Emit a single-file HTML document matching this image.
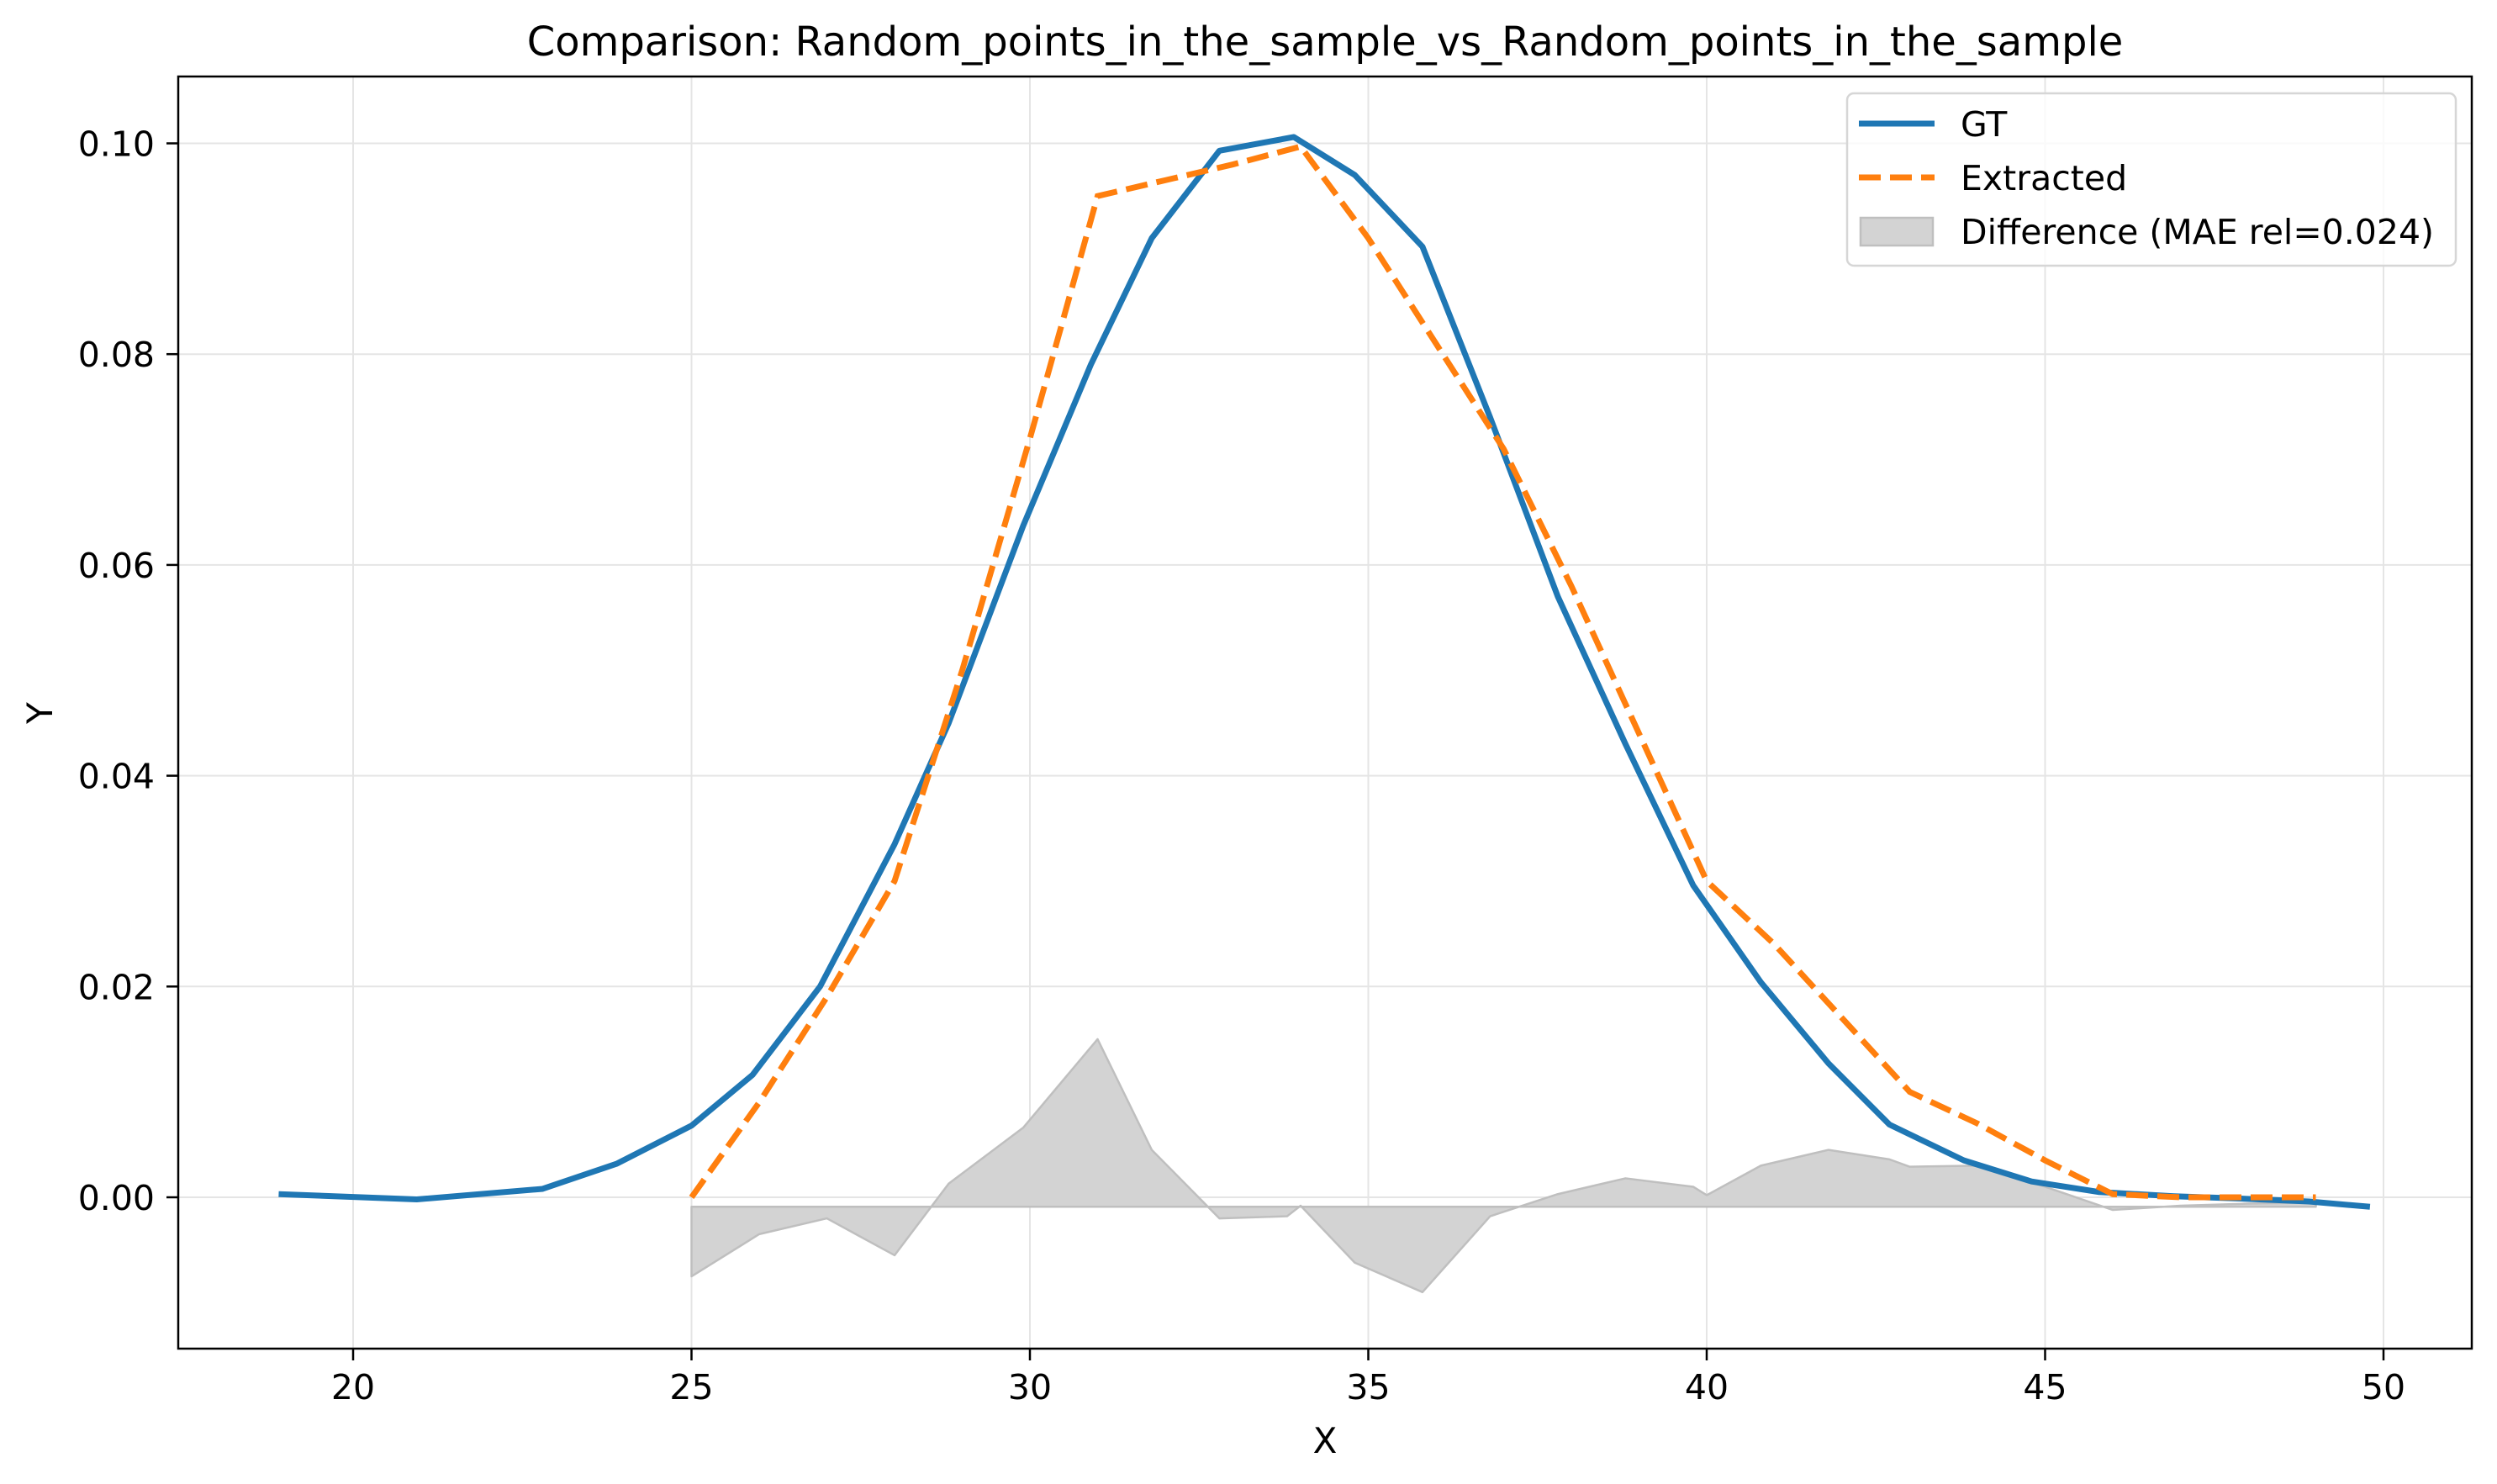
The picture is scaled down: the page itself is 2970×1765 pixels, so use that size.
<!DOCTYPE html>
<html><head><meta charset="utf-8"><style>
html,body{margin:0;padding:0;background:#fff;}
svg{display:block;font-family:"DejaVu Sans","Liberation Sans",sans-serif;}
</style></head><body>
<svg id="chart" width="2970" height="1765" viewBox="0 0 2970 1765" xmlns="http://www.w3.org/2000/svg">
<rect width="2970" height="1765" fill="#fff"/>
<g id="grid"></g>
<g id="diff"></g>
<g id="lines"></g>
<rect x="212" y="91" width="2728" height="1513" fill="none" stroke="#000" stroke-width="2.5"/>
<g id="ticks"></g>
<text x="1576" y="66" font-size="48" text-anchor="middle">Comparison: Random_points_in_the_sample_vs_Random_points_in_the_sample</text>
<text x="1576" y="1728" font-size="42" text-anchor="middle">X</text>
<text x="62" y="848" font-size="42" text-anchor="middle" transform="rotate(-90 62 848)">Y</text>
<g>
<rect x="2197" y="111" width="724" height="205" rx="8" fill="#fff" fill-opacity="0.8" stroke="#d6d6d6" stroke-width="2.5"/>
<line x1="2211" y1="147" x2="2301" y2="147" stroke="#1f77b4" stroke-width="7"/>
<text x="2332" y="162" font-size="41">GT</text>
<line x1="2211" y1="211" x2="2301" y2="211" stroke="#ff7f0e" stroke-width="7" stroke-dasharray="26 11"/>
<text x="2332" y="226" font-size="41">Extracted</text>
<rect x="2213" y="259" width="86" height="33" fill="#d3d3d3" stroke="#bfbfbf" stroke-width="2.5"/>
<text x="2332" y="290" font-size="41">Difference (MAE rel=0.024)</text>
</g>
</svg>
<script>
const gtX=[18.9,20.94,22.8,23.9,25.0,25.9,26.9,28.0,28.8,29.9,30.9,31.8,32.8,33.9,34.8,35.8,36.8,37.8,38.8,39.8,40.8,41.8,42.7,43.8,44.8,45.8,46.9,47.8,48.9,49.8];
const gtY=[0.0003,-0.0002,0.0008,0.0032,0.0068,0.0116,0.020,0.0335,0.045,0.0637,0.079,0.091,0.0993,0.1006,0.0970,0.0902,0.074,0.057,0.043,0.0296,0.0204,0.0127,0.0069,0.0035,0.0015,0.0005,0.0001,-0.0001,-0.0004,-0.0009];
const exX=[25,26,27,28,29,30,31,32,33,34,35,36,37,38,39,40,41,42,43,44,45,46,47,48,49];
const exY=[0,0.009,0.019,0.030,0.050,0.072,0.095,0.0965,0.098,0.0997,0.091,0.081,0.071,0.058,0.044,0.030,0.024,0.017,0.010,0.007,0.0035,0.0003,0,0,0];
const dfX=[25,26,27,28,28.8,29.9,31,31.8,32.8,33.8,34,34.8,35.8,36.8,37.8,38.8,39.8,40,40.8,41.8,42.7,43,44,45,46,47,48,49];
const dfY=[-0.0075,-0.0035,-0.002,-0.0055,0.0013,0.0066,0.015,0.0045,-0.002,-0.0018,-0.0008,-0.0062,-0.009,-0.0018,0.0003,0.0018,0.001,0.0002,0.003,0.0045,0.0036,0.0029,0.003,0.001,-0.0012,-0.0008,-0.0006,-0.0005];
const dfBase=-0.0009;
const xTicks=[20,25,30,35,40,45,50];
const yTicks=[0,0.02,0.04,0.06,0.08,0.10];
const yTickLabels=["0.00","0.02","0.04","0.06","0.08","0.10"];
const NS="http://www.w3.org/2000/svg";
function sx(v){return 420+(v-20)*(2835-420)/30;}
function sy(v){return 1424-v*(1424-170.5)/0.1;}
function mk(tag,attrs,parent){const e=document.createElementNS(NS,tag);for(const k in attrs)e.setAttribute(k,attrs[k]);parent.appendChild(e);return e;}
const grid=document.getElementById('grid'),ticks=document.getElementById('ticks');
xTicks.forEach(t=>{
  const g=mk('line',{x1:sx(t),x2:sx(t),y1:91,y2:1604,stroke:'#e5e5e5','stroke-width':2},grid);
  
  
  const tk=mk('line',{x1:sx(t),x2:sx(t),y1:1604,y2:1618,stroke:'#000','stroke-width':2.5},ticks);
  
  
  const tx=mk('text',{x:sx(t),y:1664,'font-size':41,'text-anchor':'middle'},ticks);
  tx.textContent=String(t);
  
  
});
yTicks.forEach((t,i)=>{
  const g=mk('line',{x1:212,x2:2940,y1:sy(t),y2:sy(t),stroke:'#e5e5e5','stroke-width':2},grid);
  
  
  const tk=mk('line',{x1:198,x2:212,y1:sy(t),y2:sy(t),stroke:'#000','stroke-width':2.5},ticks);
  
  
  const tx=mk('text',{x:184,y:sy(t)+15,'font-size':41,'text-anchor':'end'},ticks);
  tx.textContent=yTickLabels[i];
  
  
});
let d='M'+sx(dfX[0])+','+sy(dfBase);
dfX.forEach((x,i)=>{d+=' L'+sx(x)+','+sy(dfY[i]);});
d+=' L'+sx(dfX[dfX.length-1])+','+sy(dfBase)+' Z';
const area=mk('path',{d:d,fill:'#d3d3d3',stroke:'#bfbfbf','stroke-width':2.5,'stroke-linejoin':'round'},document.getElementById('diff'));


const lines=document.getElementById('lines');
const gt=mk('polyline',{points:gtX.map((x,i)=>sx(x)+','+sy(gtY[i])).join(' '),fill:'none',stroke:'#1f77b4','stroke-width':7,'stroke-linejoin':'round'},lines);


const ex=mk('polyline',{points:exX.map((x,i)=>sx(x)+','+sy(exY[i])).join(' '),fill:'none',stroke:'#ff7f0e','stroke-width':7,'stroke-dasharray':'26 11'},lines);


</script>
</body></html>
